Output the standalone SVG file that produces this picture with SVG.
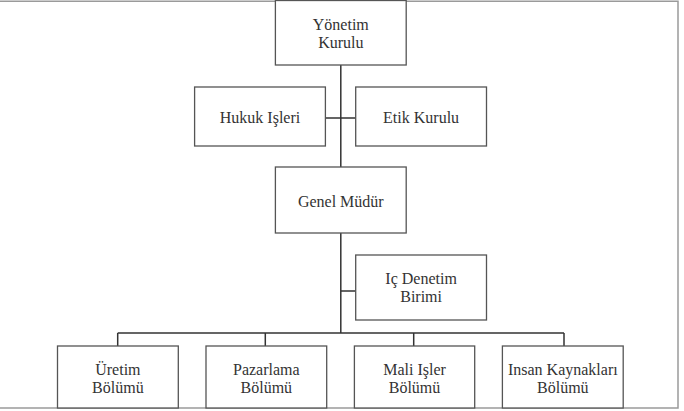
<svg xmlns="http://www.w3.org/2000/svg" width="684" height="411" viewBox="0 0 684 411">
<style>
.box{fill:#fff;stroke:#555;stroke-width:1.3}
.t{font-family:"Liberation Serif","Times New Roman",serif;font-size:16px;fill:#333;text-anchor:middle}
.c{fill:none;stroke:#333;stroke-width:1.5}
</style>
<rect width="684" height="411" fill="#fff"/>
<g id="frame" fill="none" stroke="#9a9a9a" stroke-width="1.5">
<path d="M0 1.2H678V408H0"/>
</g>
<g id="connectors">
<path class="c" d="M340.8 65V167M325.4 118H355.7M340.8 233V333M340.8 291H355.7M117.7 333H564M117.7 333V346M265.3 333V346M413.7 333V346M564 333V346"/>
</g>
<g id="yonetim"><rect class="box" x="275.4" y="0.5" width="130.8" height="64.5"/><text class="t" x="340.8" y="30">Yönetim</text><text class="t" x="340.8" y="48">Kurulu</text></g>
<g id="hukuk"><rect class="box" x="194.6" y="87" width="130.8" height="59"/><text class="t" x="260" y="123">Hukuk Işleri</text></g>
<g id="etik"><rect class="box" x="355.7" y="87" width="130.8" height="59"/><text class="t" x="421.1" y="123">Etik Kurulu</text></g>
<g id="genel"><rect class="box" x="275.4" y="167" width="130.8" height="66"/><text class="t" x="340.8" y="207">Genel Müdür</text></g>
<g id="icdenetim"><rect class="box" x="355.7" y="255" width="130.8" height="65"/><text class="t" x="421.1" y="284">Iç Denetim</text><text class="t" x="421.1" y="302">Birimi</text></g>
<g id="uretim"><rect class="box" x="57.5" y="346" width="120.8" height="62"/><text class="t" x="117.9" y="375">Üretim</text><text class="t" x="117.9" y="393">Bölümü</text></g>
<g id="pazarlama"><rect class="box" x="206" y="346" width="120.7" height="62"/><text class="t" x="266.3" y="375">Pazarlama</text><text class="t" x="266.3" y="393">Bölümü</text></g>
<g id="mali"><rect class="box" x="354.4" y="346" width="120.3" height="62"/><text class="t" x="414.5" y="375">Mali Işler</text><text class="t" x="414.5" y="393">Bölümü</text></g>
<g id="insan"><rect class="box" x="502.4" y="346" width="120.8" height="62"/><text class="t" x="562.8" y="375">Insan Kaynakları</text><text class="t" x="562.8" y="393">Bölümü</text></g>
</svg>
